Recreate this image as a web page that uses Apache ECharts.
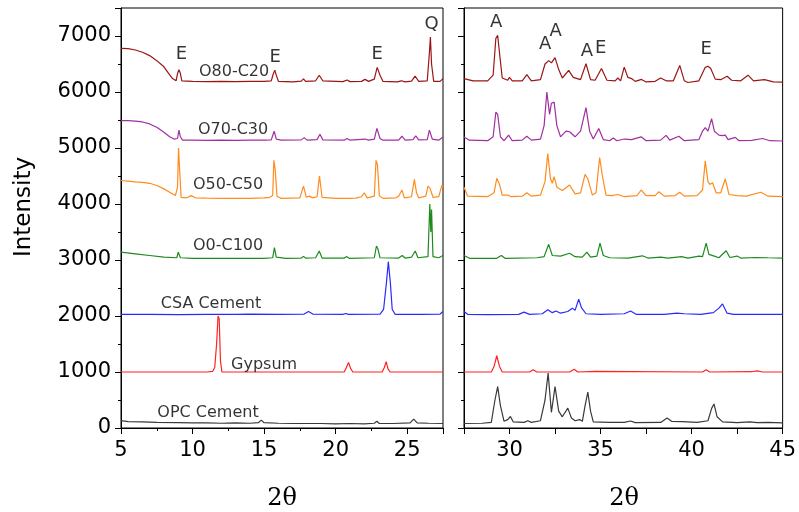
<!DOCTYPE html>
<html><head><meta charset="utf-8">
<script src="https://cdn.jsdelivr.net/npm/echarts@6/dist/echarts.min.js"></script>
<style>html,body{margin:0;padding:0;background:#fff}#c{width:799px;height:512px}</style>
</head><body><div id="c"></div>
<script>
// ---- data: [2theta, intensity] pairs ----
const seriesNames = ['O80-C20','O70-C30','O50-C50','O0-C100','CSA Cement','Gypsum','OPC Cement'];
const seriesColors = ['#9a1515','#a030a0','#ff8c1e','#1f8a1f','#2a2aff','#ff2222','#3a3a3a'];

const s80 = [[5,6780],[5.5,6775],[6,6750],[6.5,6710],[7,6650],[7.5,6560],[8,6450],[8.3,6340],[8.6,6240],[8.85,6200],[8.95,6330],[9.05,6400],[9.15,6330],[9.25,6200],[10,6190],[11,6185],[12,6190],[13,6185],[14,6190],[15,6190],[15.5,6200],[15.65,6330],[15.75,6390],[15.85,6300],[16,6190],[17,6180],[17.6,6195],[17.75,6235],[17.9,6190],[18.6,6200],[18.85,6300],[19.1,6200],[20.5,6185],[20.8,6215],[21.0,6185],[21.8,6190],[22.05,6225],[22.3,6190],[22.7,6230],[22.9,6440],[23.1,6300],[23.3,6190],[24.3,6180],[24.6,6200],[24.85,6180],[25.3,6195],[25.55,6285],[25.8,6190],[26.4,6200],[26.55,6700],[26.62,6980],[26.7,6500],[26.85,6190],[27.3,6190],[27.5,6240],
  [28,6200],[28.8,6200],[29.1,6300],[29.25,6960],[29.35,7010],[29.45,6700],[29.6,6250],[29.9,6210],[30.0,6260],[30.15,6200],[30.7,6200],[30.95,6310],[31.2,6200],[31.7,6220],[31.95,6500],[32.15,6560],[32.3,6520],[32.5,6615],[32.7,6400],[32.9,6250],[33.25,6385],[33.5,6260],[33.9,6220],[34.2,6505],[34.45,6220],[34.7,6210],[35.05,6420],[35.35,6210],[35.8,6200],[35.95,6250],[36.1,6200],[36.3,6445],[36.5,6260],[36.7,6240],[36.9,6190],[37.25,6225],[37.5,6180],[38.0,6190],[38.3,6250],[38.6,6200],[39.0,6200],[39.35,6475],[39.6,6200],[39.8,6170],[40.4,6200],[40.75,6440],[40.9,6460],[41.05,6420],[41.3,6230],[41.6,6220],[41.95,6280],[42.2,6210],[42.7,6200],[43.1,6300],[43.4,6200],[44.0,6220],[44.5,6180],[45,6175]];

const s70 = [[5,5490],[5.5,5490],[6,5480],[6.5,5465],[7,5430],[7.5,5370],[8,5280],[8.4,5200],[8.7,5160],[8.95,5170],[9.05,5320],[9.15,5200],[9.3,5140],[10,5140],[11,5135],[12,5140],[13,5135],[14,5140],[15,5140],[15.5,5145],[15.7,5300],[15.85,5160],[16.2,5140],[17.6,5145],[17.8,5185],[18,5140],[18.7,5150],[18.9,5245],[19.1,5145],[20.6,5140],[20.8,5170],[21,5140],[22.05,5160],[22.3,5140],[22.7,5160],[22.88,5350],[23.1,5170],[23.3,5140],[24.4,5140],[24.63,5210],[24.85,5140],[25.4,5150],[25.6,5215],[25.8,5145],[26.4,5150],[26.55,5320],[26.75,5160],[27.2,5140],[27.5,5195],
  [27.8,5140],[28.8,5130],[29.1,5200],[29.25,5640],[29.35,5600],[29.5,5200],[29.7,5130],[29.95,5230],[30.15,5130],[30.7,5140],[30.95,5210],[31.2,5140],[31.7,5160],[31.9,5400],[32.05,6000],[32.2,5600],[32.3,5800],[32.45,5820],[32.6,5400],[32.8,5200],[33.1,5300],[33.3,5290],[33.6,5200],[33.9,5300],[34.2,5720],[34.4,5300],[34.6,5160],[34.9,5350],[35.15,5150],[35.5,5130],[35.7,5180],[35.9,5130],[36.3,5160],[36.7,5150],[37.23,5200],[37.5,5130],[38.3,5140],[38.6,5225],[38.8,5140],[39.3,5210],[39.6,5130],[40.4,5150],[40.6,5300],[40.75,5365],[40.9,5300],[41.1,5525],[41.25,5300],[41.5,5230],[41.7,5220],[41.85,5230],[42.0,5150],[42.4,5190],[42.6,5130],[43.3,5135],[43.9,5170],[44.3,5130],[45,5125]];

const s50 = [[5,4420],[5.5,4410],[6,4395],[6.5,4385],[7,4370],[7.5,4330],[8,4270],[8.4,4210],[8.8,4150],[8.95,4300],[9.02,5000],[9.1,4600],[9.2,4120],[9.6,4110],[9.9,4150],[10.2,4110],[11,4105],[12,4100],[13,4100],[14,4100],[15,4110],[15.4,4120],[15.6,4150],[15.68,4780],[15.78,4600],[15.9,4140],[16.2,4100],[17.5,4110],[17.75,4320],[17.95,4120],[18.15,4140],[18.4,4110],[18.7,4130],[18.87,4500],[19.05,4120],[20,4100],[21.0,4100],[21.4,4105],[21.8,4130],[22.0,4200],[22.2,4110],[22.7,4140],[22.82,4780],[22.92,4700],[23.05,4150],[23.3,4100],[24.2,4110],[24.4,4140],[24.63,4250],[24.8,4110],[25.3,4130],[25.5,4440],[25.65,4200],[25.8,4110],[26.3,4140],[26.45,4320],[26.6,4280],[26.8,4120],[27.2,4130],[27.43,4340],[27.5,4300],
  [27.7,4140],[28.8,4130],[29.15,4200],[29.3,4460],[29.45,4350],[29.6,4160],[29.9,4160],[30.1,4130],[30.7,4140],[30.95,4200],[31.2,4140],[31.7,4160],[31.95,4400],[32.1,4900],[32.25,4450],[32.35,4370],[32.45,4490],[32.6,4300],[32.9,4240],[33.3,4340],[33.6,4180],[33.9,4200],[34.15,4530],[34.3,4450],[34.55,4160],[34.75,4200],[34.95,4830],[35.1,4500],[35.3,4160],[35.6,4150],[35.95,4170],[36.3,4130],[37.0,4150],[37.23,4250],[37.5,4150],[38.0,4150],[38.2,4220],[38.5,4140],[39.1,4150],[39.35,4210],[39.6,4140],[40.3,4150],[40.6,4250],[40.75,4770],[40.9,4400],[41.0,4350],[41.15,4380],[41.35,4200],[41.6,4200],[41.85,4450],[42.05,4170],[42.5,4150],[43.0,4140],[43.8,4210],[44.2,4140],[45,4130]];

const s0 = [[5,3140],[6,3110],[7,3080],[8,3050],[8.9,3040],[9.0,3140],[9.15,3040],[10,3030],[11,3030],[12,3030],[13,3030],[14,3030],[15,3030],[15.6,3040],[15.72,3220],[15.85,3050],[16.5,3030],[17.6,3035],[17.75,3065],[17.9,3035],[18.6,3040],[18.85,3160],[19.05,3035],[20.6,3035],[20.78,3060],[20.95,3030],[22.7,3040],[22.85,3250],[22.95,3200],[23.1,3040],[24.4,3035],[24.65,3080],[24.85,3035],[25.3,3050],[25.56,3160],[25.75,3040],[26.45,3060],[26.58,4000],[26.65,3500],[26.7,3900],[26.8,3060],[27.2,3040],[27.5,3080],
  [27.8,3030],[29.3,3030],[29.55,3080],[29.75,3030],[31.5,3040],[31.9,3060],[32.15,3280],[32.35,3080],[32.8,3070],[33.3,3120],[33.6,3060],[34.0,3050],[34.25,3140],[34.45,3050],[34.8,3070],[34.97,3300],[35.15,3080],[35.5,3040],[36.5,3035],[37.3,3075],[37.6,3035],[38.3,3050],[38.7,3035],[39.45,3060],[39.8,3035],[40.4,3070],[40.6,3060],[40.8,3300],[40.95,3100],[41.25,3070],[41.5,3040],[41.9,3165],[42.1,3045],[42.5,3070],[42.7,3035],[43.5,3045],[44.2,3040],[45,3035]];

const sCSA = [[5,2030],[7,2030],[9,2025],[11,2030],[13,2030],[14,2035],[16,2030],[17.8,2035],[18.1,2080],[18.4,2035],[20.5,2030],[20.7,2045],[20.9,2030],[23.1,2035],[23.35,2120],[23.55,2600],[23.68,2970],[23.82,2600],[23.95,2120],[24.15,2030],[26,2030],[27.3,2035],[27.5,2080],
  [27.7,2030],[28.8,2025],[30.5,2030],[30.8,2070],[31.1,2030],[31.8,2040],[32.1,2110],[32.35,2060],[32.55,2090],[32.8,2050],[33.2,2080],[33.45,2140],[33.6,2100],[33.8,2300],[33.95,2150],[34.2,2040],[35.0,2030],[36.3,2040],[36.65,2090],[36.95,2030],[38.5,2030],[39.2,2050],[39.6,2040],[40.5,2030],[41.2,2060],[41.5,2140],[41.7,2215],[41.95,2050],[42.3,2030],[45,2030]];

const sGyp = [[5,1000],[8,1000],[11,1000],[11.4,1010],[11.55,1080],[11.68,1500],[11.78,2000],[11.86,1950],[11.95,1200],[12.05,1000],[15,1000],[20.6,1000],[20.75,1080],[20.9,1170],[21.05,1060],[21.2,1000],[23.25,1000],[23.4,1080],[23.53,1185],[23.65,1060],[23.8,1000],[27.5,1000],
  [29.0,1000],[29.15,1100],[29.3,1290],[29.45,1100],[29.6,1000],[31.1,1000],[31.3,1040],[31.5,1000],[33.3,1000],[33.55,1050],[33.75,1000],[34.7,1010],[34.8,1000],[40.6,1000],[40.8,1040],[41.0,1000],[43.3,1005],[43.6,1020],[43.9,1000],[45,1000]];

const sOPC = [[5,130],[5.5,115],[6.5,110],[7.5,100],[9,95],[10,90],[11,90],[12,85],[13,90],[14,85],[14.6,95],[14.8,140],[15.0,95],[16,85],[17,80],[18,80],[19,80],[20,75],[21,80],[22,75],[22.7,85],[22.88,120],[23.05,80],[24,80],[25.2,90],[25.45,160],[25.7,90],[26.5,85],[27.5,80],
  [28.5,85],[29.0,100],[29.2,500],[29.35,740],[29.5,400],[29.7,120],[29.9,150],[30.05,205],[30.2,110],[30.8,100],[31.0,130],[31.2,100],[31.7,130],[31.95,500],[32.12,980],[32.3,280],[32.5,740],[32.7,300],[32.9,200],[33.2,355],[33.4,180],[33.6,130],[33.85,150],[34.0,120],[34.15,400],[34.3,640],[34.45,300],[34.6,110],[35.5,100],[36.3,100],[36.65,125],[36.9,95],[38.3,100],[38.65,180],[38.9,120],[39.5,115],[40.3,100],[40.9,130],[41.1,350],[41.23,430],[41.4,200],[41.7,110],[42.5,95],[43.2,110],[43.6,95],[44.2,100],[45,90]];

const allSeries = [s80, s70, s50, s0, sCSA, sGyp, sOPC];

// axis settings
const splitAt = 27.5;
const leftRange = [5, 27.5];
const rightRange = [27.5, 45];
const yRange = [0, 7500];

// annotation labels [text, 2theta, intensity]
const peakLabels = [['E',9.23,6674],['E',15.77,6620],['E',22.9,6674],['Q',26.71,7209],
  ['A',29.26,7253],['A',31.96,6852],['A',32.53,7075],['A',34.25,6727],['E',35.01,6772],['E',40.8,6763]];
const sampleLabels = [['O80-C20',12.9,6353],['O70-C30',12.83,5319],['O50-C50',12.48,4338],['O0-C100',12.48,3259],
  ['CSA Cement',11.29,2225],['Gypsum',15.0,1129],['OPC Cement',11.08,273]];

// ---- chart ----
const chart = echarts.init(document.getElementById('c'), null, {renderer:'canvas'});
const axisFont = {fontFamily:'DejaVu Sans', fontSize:21, color:'#000'};
function xAx(grid, range, interval, showLabel){
  return {type:'value', gridIndex:grid, min:range[0], max:range[1], interval:interval,
    axisLine:{show:true, onZero:false, lineStyle:{color:'#000', width:1}},
    axisTick:{show:true, inside:false, length:6, lineStyle:{color:'#000'}},
    minorTick:{show: grid===0, splitNumber:2, length:3, lineStyle:{color:'#000'}},
    splitLine:{show:false},
    axisLabel:{show:showLabel, margin:12, ...axisFont, formatter:v => (Math.abs(v % 5) < 1e-9 && v > range[0]-1e-9 && v < range[1]+ (range[1]%5===0?1e-9:-1e-9)) ? String(v) : ''}};
}
function yAx(grid, showLabel){
  return {type:'value', gridIndex:grid, min:yRange[0], max:yRange[1], interval:1000,
    axisLine:{show:true, onZero:false, lineStyle:{color:'#000', width:1}},
    axisTick:{show:true, inside:false, length:6, lineStyle:{color:'#000'}},
    minorTick:{show:true, splitNumber:2, length:3, lineStyle:{color:'#000'}},
    splitLine:{show:false},
    axisLabel:{show:showLabel, margin:10, ...axisFont, formatter:v => (v % 1000 === 0 && v <= 7000) ? String(v) : ''}};
}

const series = [];
allSeries.forEach((d, i) => {
  series.push({type:'line', name:seriesNames[i], xAxisIndex:0, yAxisIndex:0,
    data:d.filter(p => p[0] <= splitAt), showSymbol:false, symbol:'none',
    lineStyle:{width:1.2, color:seriesColors[i]}, itemStyle:{color:seriesColors[i]}, z:2});
  series.push({type:'line', name:seriesNames[i], xAxisIndex:1, yAxisIndex:1,
    data:d.filter(p => p[0] >= splitAt), showSymbol:false, symbol:'none',
    lineStyle:{width:1.2, color:seriesColors[i]}, itemStyle:{color:seriesColors[i]}, z:2});
});
function labelSeries(list, axisIdx, size){
  return {type:'scatter', xAxisIndex:axisIdx, yAxisIndex:axisIdx, symbolSize:0, z:5, silent:true,
    data:list.map(a => ({name:a[0], value:[a[1], a[2]]})),
    label:{show:true, position:'inside', formatter:'{b}', fontFamily:'DejaVu Sans', fontSize:size, color:'#000'}};
}
series.push(labelSeries(peakLabels.filter(a => a[1] < splitAt), 0, 18));
series.push(labelSeries(peakLabels.filter(a => a[1] >= splitAt), 1, 18));
series.push(labelSeries(sampleLabels, 0, 16));

chart.setOption({
  animation:false,
  backgroundColor:'#fff',
  grid:[{left:121, width:322, top:8, height:420, show:true, borderColor:'#000', borderWidth:1, backgroundColor:'transparent'},
        {left:464, width:321, top:8, height:420, show:true, borderColor:'#000', borderWidth:1, backgroundColor:'transparent'}],
  xAxis:[xAx(0, leftRange, 5, true), xAx(1, rightRange, 2.5, true)],
  yAxis:[yAx(0, true), yAx(1, false)],
  series:series,
  graphic:[
    {type:'text', x:24, y:207, rotation:Math.PI/2, style:{text:'Intensity', font:'23px "DejaVu Sans"', fill:'#000', textAlign:'center', textVerticalAlign:'middle'}},
    {type:'text', x:282, y:499, style:{text:'2θ', font:'24px "DejaVu Serif"', fill:'#000', textAlign:'center', textVerticalAlign:'middle'}},
    {type:'text', x:624, y:499, style:{text:'2θ', font:'24px "DejaVu Serif"', fill:'#000', textAlign:'center', textVerticalAlign:'middle'}}
  ]
});
</script></body></html>
